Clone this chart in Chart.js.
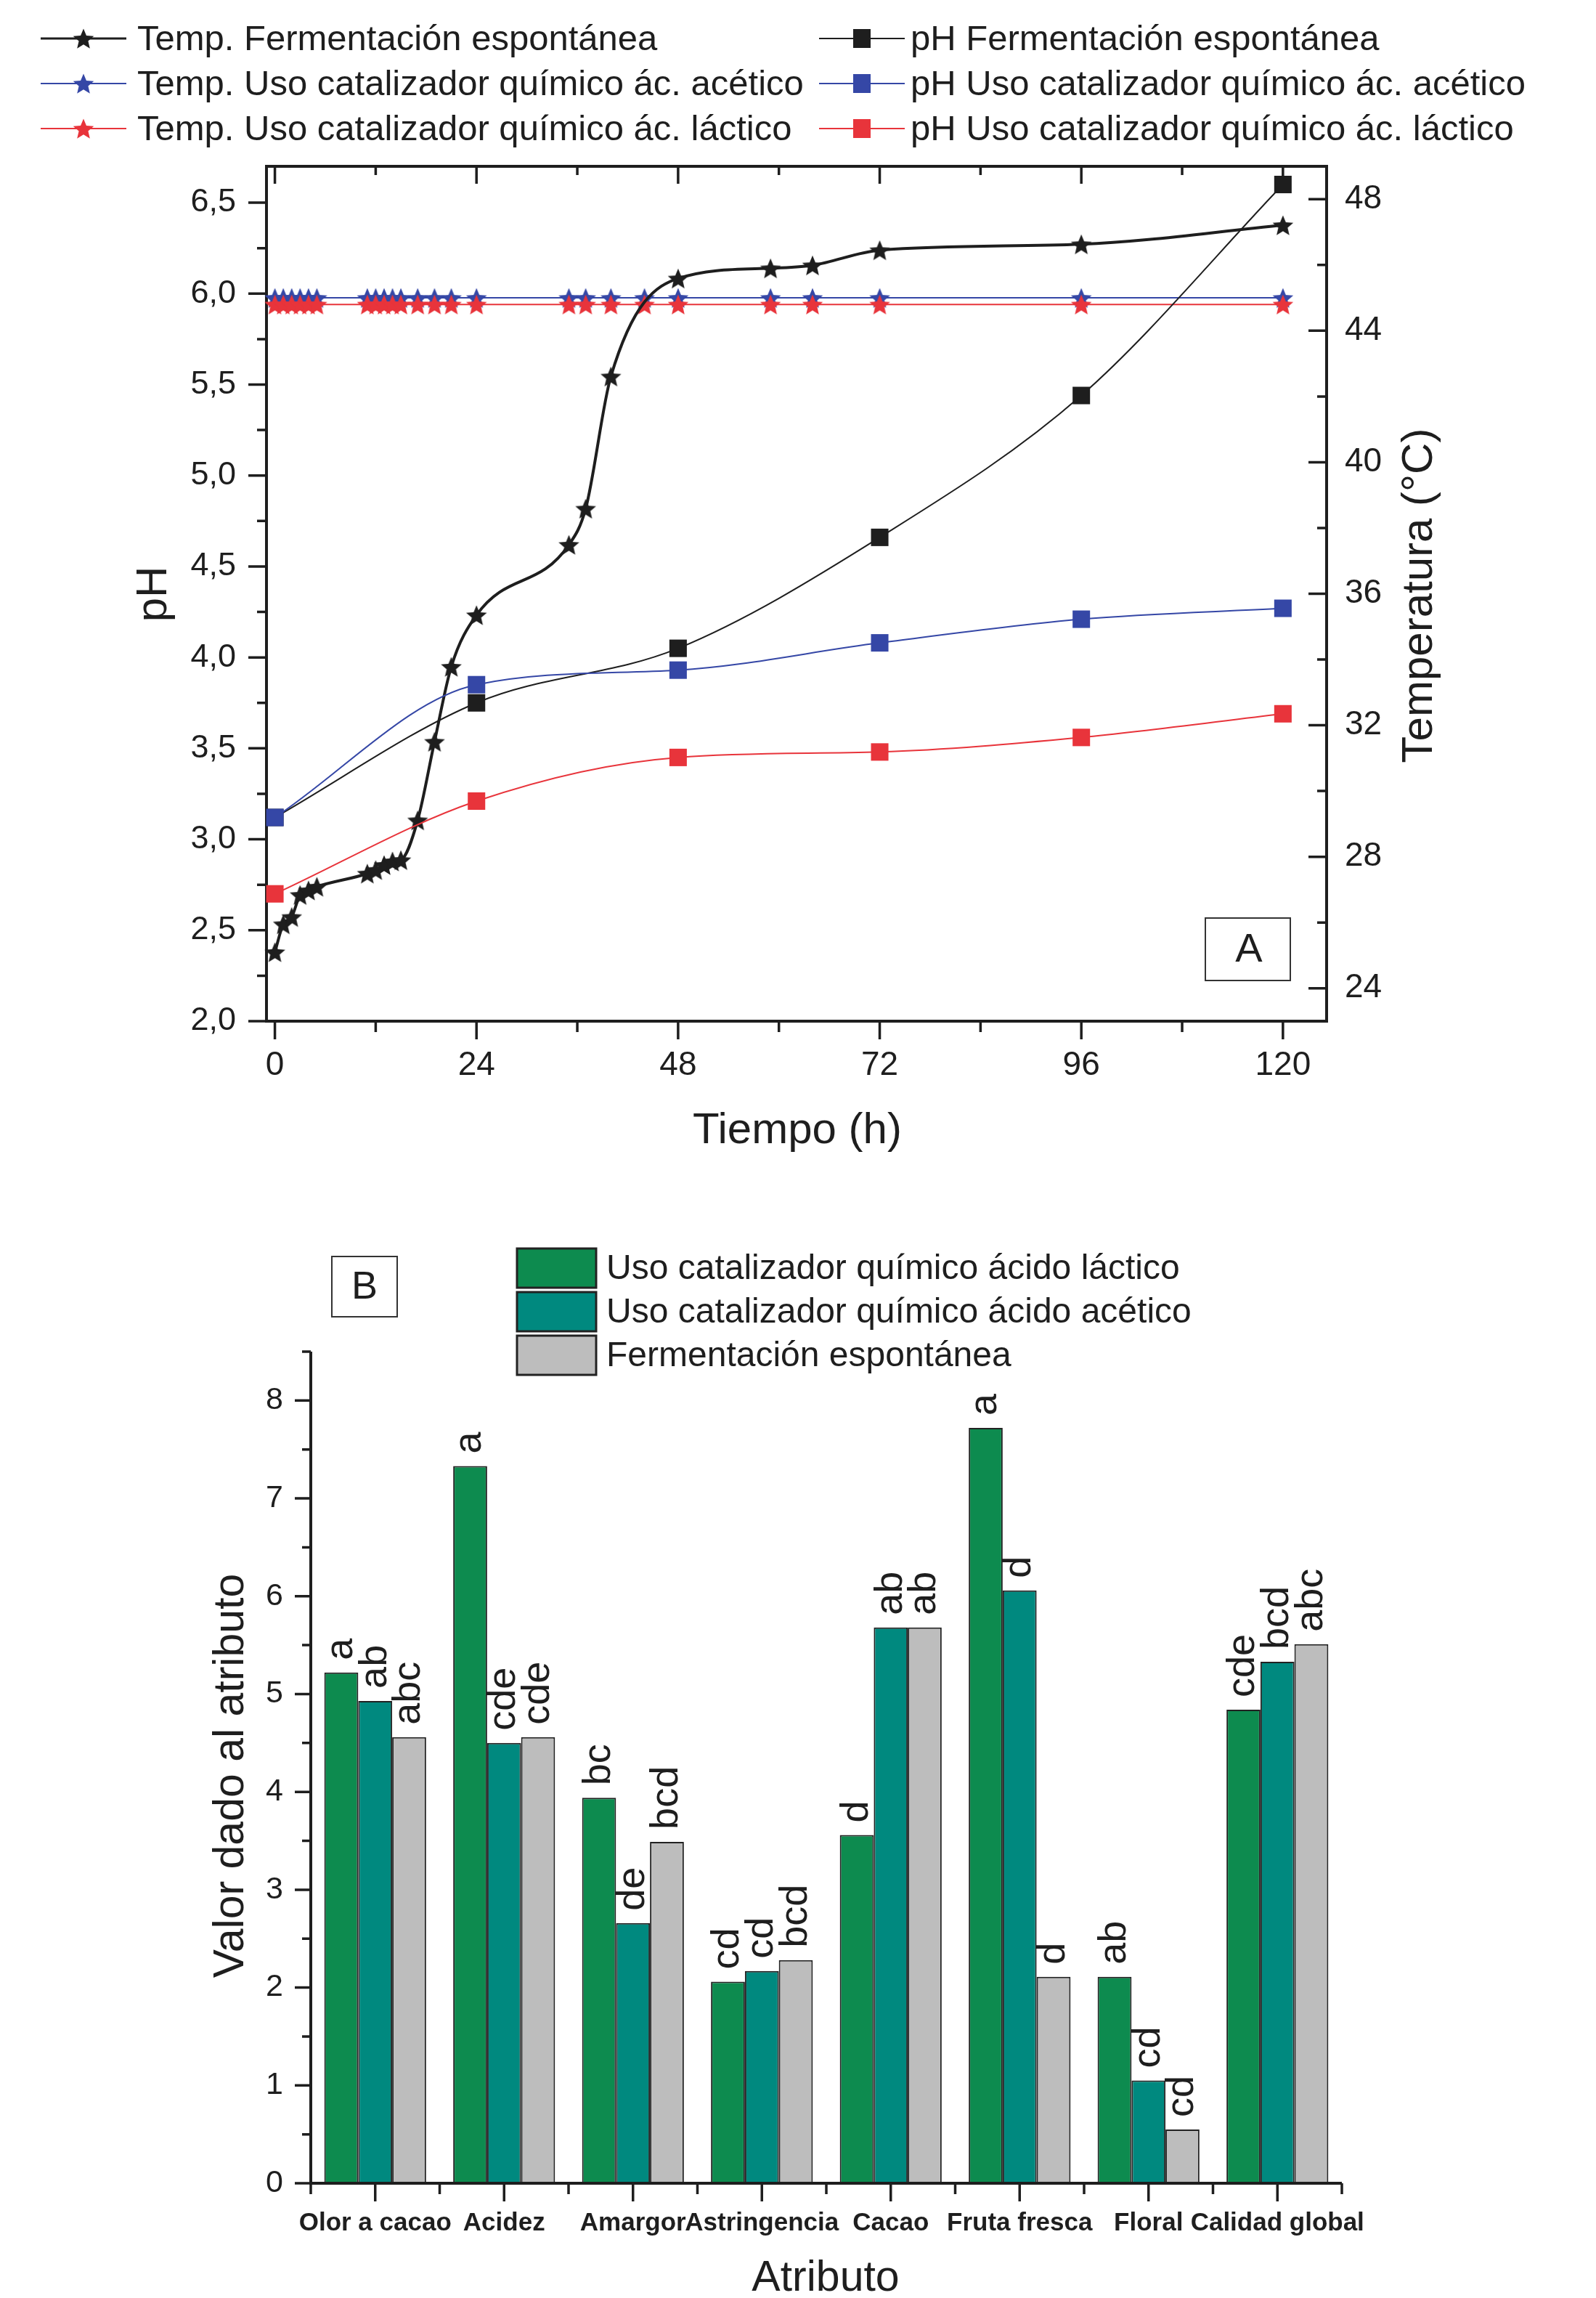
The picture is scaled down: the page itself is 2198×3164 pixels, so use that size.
<!DOCTYPE html>
<html>
<head>
<meta charset="utf-8">
<script src="https://cdn.jsdelivr.net/npm/chart.js@4.4.1/dist/chart.umd.min.js"></script>
<style>
  body { margin: 0; background: #fff; }
  #wrap { position: relative; width: 2198px; height: 3164px; background: #fff; }
  canvas { position: absolute; left: 0; }
</style>
</head>
<body>
<div id="wrap">
  <canvas id="chartA" width="2198" height="1640" style="top:0;width:2198px;height:1640px"></canvas>
  <canvas id="chartB" width="2198" height="1604" style="top:1560px;width:2198px;height:1604px"></canvas>
</div>
<script>
/* ---------- Panel A: temperatura y pH ---------- */
const HOURS_TEMP = [0, 1, 2, 3, 4, 5, 11, 12, 13, 14, 15, 17, 19, 21, 24, 35, 37, 40, 48, 59, 64, 72, 96, 120];
const TEMP_ESPONTANEA = [25.1, 25.95, 26.17, 26.84, 26.98, 27.09, 27.49, 27.6, 27.75, 27.86, 27.9, 29.11, 31.5, 33.78, 35.35, 37.49, 38.59, 42.61, 45.59, 45.9, 45.99, 46.45, 46.63, 47.21];
const HOURS_TEMP_CAT = [0, 1, 2, 3, 4, 5, 11, 12, 13, 14, 15, 17, 19, 21, 24, 35, 37, 40, 44, 48, 59, 64, 72, 96, 120];
const TEMP_ACETICO = [45, 45, 45, 45, 45, 45, 45, 45, 45, 45, 45, 45, 45, 45, 45, 45, 45, 45, 45, 45, 45, 45, 45, 45, 45];
const TEMP_LACTICO = [44.8, 44.8, 44.8, 44.8, 44.8, 44.8, 44.8, 44.8, 44.8, 44.8, 44.8, 44.8, 44.8, 44.8, 44.8, 44.8, 44.8, 44.8, 44.8, 44.8, 44.8, 44.8, 44.8, 44.8, 44.8];

const HOURS_PH = [0, 24, 48, 72, 96, 120];
const PH_ESPONTANEA = [3.12, 3.75, 4.05, 4.66, 5.44, 6.6];
const PH_ACETICO = [3.12, 3.85, 3.93, 4.08, 4.21, 4.27];
const PH_LACTICO = [2.7, 3.21, 3.45, 3.48, 3.56, 3.69];

const X_TICKS = [0, 12, 24, 36, 48, 60, 72, 84, 96, 108, 120];
const PH_TICKS = [2, 2.25, 2.5, 2.75, 3, 3.25, 3.5, 3.75, 4, 4.25, 4.5, 4.75, 5, 5.25, 5.5, 5.75, 6, 6.25, 6.5];
const TEMP_TICKS = [24, 26, 28, 30, 32, 34, 36, 38, 40, 42, 44, 46, 48];

/* ---------- Panel B: atributos sensoriales ---------- */
const ATRIBUTOS = ['Olor a cacao', 'Acidez', 'Amargor', 'Astringencia', 'Cacao', 'Fruta fresca', 'Floral', 'Calidad global'];
const VAL_LACTICO = [5.22, 7.33, 3.94, 2.06, 3.56, 7.72, 2.11, 4.84];
const VAL_ACETICO = [4.93, 4.5, 2.66, 2.17, 5.68, 6.06, 1.05, 5.33];
const VAL_ESPONTANEA = [4.56, 4.56, 3.49, 2.28, 5.68, 2.11, 0.55, 5.51];
const LET_LACTICO = ['a', 'a', 'bc', 'cd', 'd', 'a', 'ab', 'cde'];
const LET_ACETICO = ['ab', 'cde', 'de', 'cd', 'ab', 'd', 'cd', 'bcd'];
const LET_ESPONTANEA = ['abc', 'cde', 'bcd', 'bcd', 'ab', 'd', 'cd', 'abc'];
const Y_TICKS_B = [0, 0.5, 1, 1.5, 2, 2.5, 3, 3.5, 4, 4.5, 5, 5.5, 6, 6.5, 7, 7.5, 8, 8.5];

const FONT = '"Liberation Sans", Arial, Helvetica, sans-serif';
const INK = '#1e1e1e';
const BLUE = '#3547a6';
const RED = '#e8343b';
const GREEN = '#0d8b4f';
const TEAL = '#00897f';
const GREY = '#bdbdbd';

function pts(xs, ys) { return xs.map((x, i) => ({ x, y: ys[i] })); }
function isHalf(v) { return Math.abs(v * 2 - Math.round(v * 2)) < 1e-9; }

function starImage(color, r) {
  const c = document.createElement('canvas');
  const s = Math.ceil(r * 2 + 4);
  c.width = c.height = s;
  const g = c.getContext('2d');
  g.translate(s / 2, s / 2 + r * 0.1);
  g.beginPath();
  for (let i = 0; i < 10; i++) {
    const rad = i % 2 ? r * 0.45 : r;
    const a = -Math.PI / 2 + i * Math.PI / 5;
    g.lineTo(rad * Math.cos(a), rad * Math.sin(a));
  }
  g.closePath();
  g.fillStyle = color;
  g.fill();
  return c;
}

const starBlack = starImage(INK, 15);
const starBlue = starImage(BLUE, 15);
const starRed = starImage(RED, 15);

function noGrid() { return { display: false, drawTicks: false }; }

const frameA = {
  id: 'frameA',
  beforeDatasetsDraw(chart) {
    const { ctx, chartArea: a, scales: { x, yPH, yT } } = chart;
    ctx.save();
    ctx.strokeStyle = INK;
    ctx.lineWidth = 4;
    ctx.strokeRect(a.left, a.top, a.right - a.left, a.bottom - a.top);
    ctx.lineWidth = 3.5;
    ctx.beginPath();
    X_TICKS.forEach(v => {
      const px = x.getPixelForValue(v), major = v % 24 === 0;
      ctx.moveTo(px, a.bottom); ctx.lineTo(px, a.bottom + (major ? 25 : 15));
      ctx.moveTo(px, a.top); ctx.lineTo(px, a.top + (major ? 24 : 12));
    });
    PH_TICKS.forEach(v => {
      const py = yPH.getPixelForValue(v);
      ctx.moveTo(a.left, py); ctx.lineTo(a.left - (isHalf(v) ? 25 : 13), py);
    });
    TEMP_TICKS.forEach(v => {
      const py = yT.getPixelForValue(v);
      ctx.moveTo(a.right, py); ctx.lineTo(a.right - (v % 4 === 0 ? 25 : 13), py);
    });
    ctx.stroke();
    ctx.restore();
  },
  afterDraw(chart) {
    const { ctx } = chart;
    ctx.save();
    ctx.fillStyle = INK;
    ctx.textAlign = 'center';
    ctx.textBaseline = 'middle';
    ctx.font = `60px ${FONT}`;
    ctx.fillText('Tiempo (h)', 1098, 1557);
    ctx.save(); ctx.translate(212, 818); ctx.rotate(-Math.PI / 2); ctx.fillText('pH', 0, 0); ctx.restore();
    ctx.save(); ctx.translate(1955, 820); ctx.rotate(-Math.PI / 2); ctx.fillText('Temperatura (°C)', 0, 0); ctx.restore();

    // recuadro A
    ctx.lineWidth = 2;
    ctx.strokeStyle = '#333';
    ctx.strokeRect(1660, 1264, 117, 86);
    ctx.font = `56px ${FONT}`;
    ctx.fillText('A', 1720, 1309);

    // leyenda en dos columnas
    ctx.textAlign = 'left';
    ctx.font = `49px ${FONT}`;
    chart.data.datasets.forEach((ds, i) => {
      const col = i < 3 ? 0 : 1, row = i % 3;
      const x0 = col ? 1128 : 56, y = 53 + row * 62;
      ctx.strokeStyle = ds.borderColor;
      ctx.lineWidth = Math.min(ds.borderWidth, 3);
      ctx.beginPath(); ctx.moveTo(x0, y); ctx.lineTo(x0 + 118, y); ctx.stroke();
      const cx = x0 + 59;
      if (ds.pointStyle instanceof HTMLCanvasElement) {
        ctx.drawImage(ds.pointStyle, cx - ds.pointStyle.width / 2, y - ds.pointStyle.height / 2);
      } else {
        ctx.fillStyle = ds.pointBackgroundColor;
        ctx.fillRect(cx - 12, y - 13, 24, 26);
      }
      ctx.fillStyle = INK;
      ctx.fillText(ds.label, col ? 1254 : 189, y + 2);
    });
    ctx.restore();
  }
};

new Chart(document.getElementById('chartA'), {
  type: 'line',
  data: {
    datasets: [
      { label: 'Temp. Fermentación espontánea', data: pts(HOURS_TEMP, TEMP_ESPONTANEA), yAxisID: 'yT',
        borderColor: INK, borderWidth: 4, pointStyle: starBlack, pointRadius: 15, order: 3 },
      { label: 'Temp. Uso catalizador químico ác. acético', data: pts(HOURS_TEMP_CAT, TEMP_ACETICO), yAxisID: 'yT',
        borderColor: BLUE, borderWidth: 2, pointStyle: starBlue, pointRadius: 15, order: 5 },
      { label: 'Temp. Uso catalizador químico ác. láctico', data: pts(HOURS_TEMP_CAT, TEMP_LACTICO), yAxisID: 'yT',
        borderColor: RED, borderWidth: 2, pointStyle: starRed, pointRadius: 15, order: 4 },
      { label: 'pH Fermentación espontánea', data: pts(HOURS_PH, PH_ESPONTANEA), yAxisID: 'yPH',
        borderColor: INK, borderWidth: 2, pointStyle: 'rect', pointRadius: 17, pointBackgroundColor: INK, pointBorderWidth: 0, order: 2 },
      { label: 'pH Uso catalizador químico ác. acético', data: pts(HOURS_PH, PH_ACETICO), yAxisID: 'yPH',
        borderColor: BLUE, borderWidth: 2, pointStyle: 'rect', pointRadius: 17, pointBackgroundColor: BLUE, pointBorderWidth: 0, order: 1 },
      { label: 'pH Uso catalizador químico ác. láctico', data: pts(HOURS_PH, PH_LACTICO), yAxisID: 'yPH',
        borderColor: RED, borderWidth: 2, pointStyle: 'rect', pointRadius: 17, pointBackgroundColor: RED, pointBorderWidth: 0, order: 0 }
    ].map(ds => Object.assign({ fill: false, clip: false, cubicInterpolationMode: 'monotone' }, ds))
  },
  options: {
    responsive: false,
    animation: false,
    devicePixelRatio: 1,
    layout: { padding: { top: 229, left: 0, right: 0, bottom: 0 } },
    plugins: { legend: { display: false }, tooltip: { enabled: false } },
    scales: {
      x: {
        type: 'linear', position: 'bottom', min: -1, max: 125.2,
        afterBuildTicks: s => { s.ticks = X_TICKS.map(v => ({ value: v })); },
        afterFit: s => { s.height = 234; },
        ticks: { callback: v => (v % 24 === 0 ? String(v) : ''), font: { family: FONT, size: 46 }, color: INK, padding: 34, maxRotation: 0, autoSkip: false },
        grid: noGrid(), border: { display: false }
      },
      yPH: {
        type: 'linear', position: 'left', min: 2, max: 6.7,
        afterBuildTicks: s => { s.ticks = PH_TICKS.map(v => ({ value: v })); },
        afterFit: s => { s.width = 367; },
        ticks: { callback: v => (isHalf(v) ? v.toFixed(1).replace('.', ',') : ''), font: { family: FONT, size: 45 }, color: INK, padding: 42, autoSkip: false },
        grid: noGrid(), border: { display: false }
      },
      yT: {
        type: 'linear', position: 'right', min: 23, max: 49,
        afterBuildTicks: s => { s.ticks = TEMP_TICKS.map(v => ({ value: v })); },
        afterFit: s => { s.width = 371; },
        ticks: { callback: v => (v % 4 === 0 ? String(v) : ''), font: { family: FONT, size: 46 }, color: INK, padding: 25, autoSkip: false },
        grid: noGrid(), border: { display: false }
      }
    }
  },
  plugins: [frameA]
});

const axesB = {
  id: 'axesB',
  afterDatasetsDraw(chart) {
    const { ctx, chartArea: a, scales: { x, y } } = chart;
    ctx.save();
    // letras de significancia
    ctx.font = `54px ${FONT}`;
    ctx.fillStyle = INK;
    ctx.textAlign = 'left';
    ctx.textBaseline = 'middle';
    chart.data.datasets.forEach((ds, di) => {
      chart.getDatasetMeta(di).data.forEach((bar, i) => {
        ctx.save();
        ctx.translate(bar.x, bar.y - 17);
        ctx.rotate(-Math.PI / 2);
        ctx.fillText(ds.letras[i], 0, 0);
        ctx.restore();
      });
    });
    // ejes
    ctx.strokeStyle = INK;
    ctx.lineWidth = 4;
    ctx.beginPath();
    ctx.moveTo(a.left, y.getPixelForValue(8.5));
    ctx.lineTo(a.left, a.bottom);
    ctx.lineTo(a.right, a.bottom);
    ctx.stroke();
    ctx.lineWidth = 3.5;
    ctx.beginPath();
    Y_TICKS_B.forEach(v => {
      const py = y.getPixelForValue(v);
      ctx.moveTo(a.left, py); ctx.lineTo(a.left - (Number.isInteger(v) ? 22 : 12), py);
    });
    const half = (x.getPixelForValue(1) - x.getPixelForValue(0)) / 2;
    ATRIBUTOS.forEach((_, i) => {
      const c = x.getPixelForValue(i);
      ctx.moveTo(c, a.bottom); ctx.lineTo(c, a.bottom + 25);
      ctx.moveTo(c - half, a.bottom); ctx.lineTo(c - half, a.bottom + 15);
      if (i === ATRIBUTOS.length - 1) { ctx.moveTo(c + half, a.bottom); ctx.lineTo(c + half, a.bottom + 15); }
    });
    ctx.stroke();
    ctx.restore();
  },
  afterDraw(chart) {
    const { ctx } = chart;
    ctx.save();
    ctx.fillStyle = INK;
    ctx.textAlign = 'center';
    ctx.textBaseline = 'middle';
    ctx.font = `59px ${FONT}`;
    ctx.fillText('Atributo', 1137, 1578);
    ctx.save(); ctx.translate(319, 885); ctx.rotate(-Math.PI / 2); ctx.fillText('Valor dado al atributo', 0, 0); ctx.restore();

    // recuadro B
    ctx.lineWidth = 2;
    ctx.strokeStyle = '#333';
    ctx.strokeRect(457, 170, 90, 83);
    ctx.font = `54px ${FONT}`;
    ctx.fillText('B', 502, 213);

    // leyenda
    ctx.textAlign = 'left';
    ctx.font = `48px ${FONT}`;
    chart.data.datasets.forEach((ds, i) => {
      const top = 159 + i * 60;
      ctx.fillStyle = ds.backgroundColor;
      ctx.fillRect(712, top, 109, 54);
      ctx.lineWidth = 3;
      ctx.strokeStyle = '#222';
      ctx.strokeRect(712, top, 109, 54);
      ctx.fillStyle = INK;
      ctx.fillText(ds.label, 835, top + 29);
    });
    ctx.restore();
  }
};

new Chart(document.getElementById('chartB'), {
  type: 'bar',
  data: {
    labels: ATRIBUTOS,
    datasets: [
      { label: 'Uso catalizador químico ácido láctico', data: VAL_LACTICO, letras: LET_LACTICO, backgroundColor: GREEN },
      { label: 'Uso catalizador químico ácido acético', data: VAL_ACETICO, letras: LET_ACETICO, backgroundColor: TEAL },
      { label: 'Fermentación espontánea', data: VAL_ESPONTANEA, letras: LET_ESPONTANEA, backgroundColor: GREY }
    ].map(ds => Object.assign({ borderColor: '#222', borderWidth: 2, borderSkipped: false, categoryPercentage: 0.79, barPercentage: 1 }, ds))
  },
  options: {
    responsive: false,
    animation: false,
    devicePixelRatio: 1,
    layout: { padding: { top: 301, left: 0, right: 350, bottom: 0 } },
    plugins: { legend: { display: false }, tooltip: { enabled: false } },
    scales: {
      x: {
        type: 'category', offset: true,
        afterFit: s => { s.height = 158; },
        ticks: { font: { family: FONT, size: 35, weight: 'bold' }, color: INK, padding: 34, maxRotation: 0, autoSkip: false },
        grid: noGrid(), border: { display: false }
      },
      y: {
        type: 'linear', min: 0, max: 8.5,
        afterBuildTicks: s => { s.ticks = Y_TICKS_B.map(v => ({ value: v })); },
        afterFit: s => { s.width = 428; },
        ticks: { callback: v => (Number.isInteger(v) ? String(v) : ''), font: { family: FONT, size: 43 }, color: INK, padding: 38, autoSkip: false },
        grid: noGrid(), border: { display: false }
      }
    }
  },
  plugins: [axesB]
});
</script>
</body>
</html>
